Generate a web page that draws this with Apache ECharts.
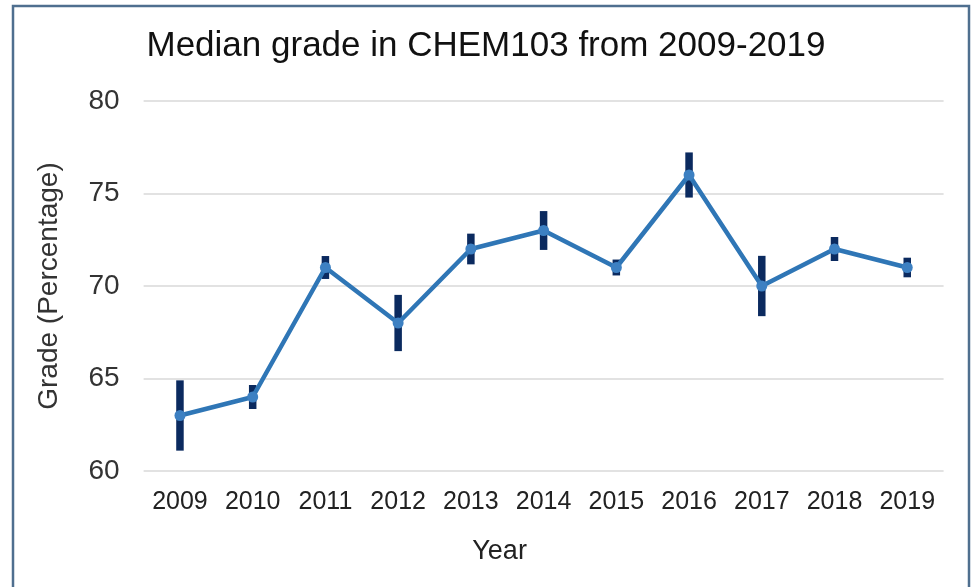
<!DOCTYPE html>
<html>
<head>
<meta charset="utf-8">
<style>
  html, body { margin: 0; padding: 0; background: #ffffff; }
  #chart { width: 972px; height: 587px; }
</style>
<script src="https://cdn.jsdelivr.net/npm/echarts@6/dist/echarts.min.js"></script>
</head>
<body>
<div id="chart"></div>
<script>
// Median grade per year with its error range
const years = ['2009', '2010', '2011', '2012', '2013', '2014', '2015', '2016', '2017', '2018', '2019'];
const medians = [63, 64, 71, 68, 72, 73, 71, 76, 70, 72, 71];
const errors = [1.9, 0.65, 0.62, 1.52, 0.83, 1.05, 0.43, 1.22, 1.63, 0.65, 0.53];
const yTicks = { min: 60, max: 80, step: 5 };

const FONT = '"Liberation Sans", Arial, sans-serif';

const errorData = medians.map((m, i) => [i, m - errors[i], m + errors[i]]);

const chart = echarts.init(document.getElementById('chart'), null, { renderer: 'canvas' });

chart.setOption({
  backgroundColor: '#ffffff',
  animation: false,
  title: {
    text: 'Median grade in CHEM103 from 2009-2019',
    left: 'center',
    top: 29,
    padding: 0,
    textStyle: { fontFamily: FONT, fontSize: 35, fontWeight: 'normal', color: '#111111' }
  },
  graphic: [{
    type: 'rect',
    shape: { x: 13, y: 6, width: 956, height: 620 },
    style: { fill: 'none', stroke: '#4f6f8f', lineWidth: 2.5 },
    silent: true
  }],
  grid: { left: 143.6, right: 28.4, top: 101, bottom: 116 },
  xAxis: {
    type: 'category',
    data: years,
    boundaryGap: true,
    axisLine: { show: false },
    axisTick: { show: false },
    axisLabel: { interval: 0, fontFamily: FONT, fontSize: 25, color: '#222222', margin: 19 },
    name: 'Year',
    nameLocation: 'middle',
    nameGap: 67,
    nameTextStyle: { fontFamily: FONT, fontSize: 27, color: '#222222', padding: [0, 88, 0, 0] }
  },
  yAxis: {
    type: 'value',
    min: yTicks.min,
    max: yTicks.max,
    interval: yTicks.step,
    axisLine: { show: false },
    axisTick: { show: false },
    axisLabel: { fontFamily: FONT, fontSize: 28, color: '#333333', margin: 24 },
    splitLine: { lineStyle: { color: '#d9d9d9', width: 1.5 } },
    name: 'Grade (Percentage)',
    nameLocation: 'middle',
    nameGap: 80,
    nameTextStyle: { fontFamily: FONT, fontSize: 28, color: '#333333' }
  },
  series: [
    {
      name: 'error',
      type: 'custom',
      z: 1,
      data: errorData,
      encode: { x: 0, y: [1, 2] },
      renderItem: function (params, api) {
        const idx = api.value(0);
        const lo = api.coord([idx, api.value(1)]);
        const hi = api.coord([idx, api.value(2)]);
        const w = 7.5;
        return {
          type: 'rect',
          shape: { x: lo[0] - w / 2, y: hi[1], width: w, height: lo[1] - hi[1] },
          style: { fill: '#0b2a5f' }
        };
      }
    },
    {
      name: 'median',
      type: 'line',
      z: 3,
      data: medians,
      symbol: 'circle',
      symbolSize: 11,
      lineStyle: { color: '#2f76b6', width: 4.5 },
      itemStyle: { color: '#3d80c2' }
    }
  ]
});
</script>
</body>
</html>
